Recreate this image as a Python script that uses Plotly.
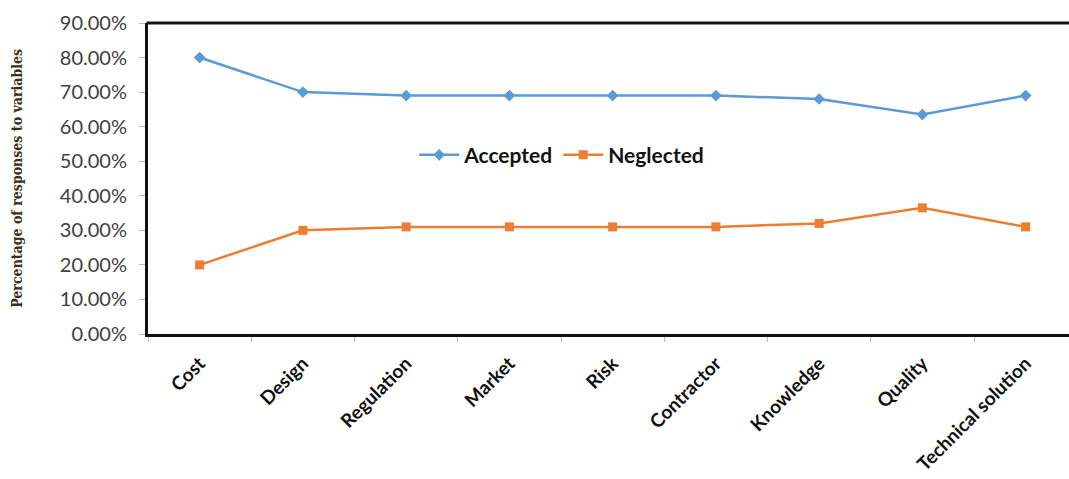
import plotly.graph_objects as go

categories = ["Cost", "Design", "Regulation", "Market", "Risk", "Contractor",
              "Knowledge", "Quality", "Technical solution"]
accepted = [0.80, 0.70, 0.69, 0.69, 0.69, 0.69, 0.68, 0.635, 0.69]
neglected = [0.20, 0.30, 0.31, 0.31, 0.31, 0.31, 0.32, 0.365, 0.31]
y_ticks = [0.0, 0.1, 0.2, 0.3, 0.4, 0.5, 0.6, 0.7, 0.8, 0.9]

fig = go.Figure()
fig.add_trace(go.Scatter(
    x=categories, y=accepted, name="Accepted", mode="lines+markers",
    line=dict(color="#5B9BD5", width=2.5),
    marker=dict(symbol="diamond", size=9, color="#5B9BD5"),
))
fig.add_trace(go.Scatter(
    x=categories, y=neglected, name="Neglected", mode="lines+markers",
    line=dict(color="#ED7D31", width=2.5),
    marker=dict(symbol="square", size=9, color="#ED7D31"),
))

fig.update_layout(
    width=1069, height=479,
    margin=dict(l=148, r=0, t=23, b=145, autoexpand=False),
    paper_bgcolor="white", plot_bgcolor="white",
    showlegend=True,
    legend=dict(orientation="h", x=0.289, y=0.575, xanchor="left", yanchor="middle",
                bgcolor="rgba(0,0,0,0)",
                font=dict(family="Lato", size=21, color="#111111", weight="bold"),
                itemwidth=40),
    font=dict(family="Lato"),
)
fig.update_xaxes(
    type="category", range=[-0.5, 8.42], automargin=False,
    showline=True, linecolor="#111111", linewidth=3, mirror=False,
    showgrid=False, zeroline=False,
    ticks="outside", tickson="boundaries", ticklen=5, tickcolor="#BBBBBB",
    tickangle=-45, ticklabelstandoff=8,
    tickfont=dict(family="Lato", size=19, color="#111111", weight="bold"),
)
fig.update_yaxes(
    range=[0, 0.9], tickvals=y_ticks, tickformat=".2%", automargin=False,
    showline=True, linecolor="#111111", linewidth=3, mirror=False,
    showgrid=False, zeroline=False,
    ticks="outside", ticklen=6, tickcolor="#BBBBBB", ticklabelstandoff=8,
    tickfont=dict(family="Lato", size=20, color="#404040"),
)
fig.add_shape(type="line", xref="paper", yref="paper", x0=-0.0016, x1=1.0, y0=1, y1=1,
              line=dict(color="#111111", width=3))
fig.add_annotation(
    text="Percentage of responses to variables",
    xref="paper", yref="paper", x=-0.143, y=0.5,
    xanchor="center", yanchor="middle", textangle=-90, showarrow=False,
    font=dict(family="DejaVu Serif Condensed", size=14, color="#3A3020", weight="bold"),
)

fig.write_html("out.html", config={"displayModeBar": False},
               post_script="document.body.style.margin='0';document.body.style.overflow='hidden';")
